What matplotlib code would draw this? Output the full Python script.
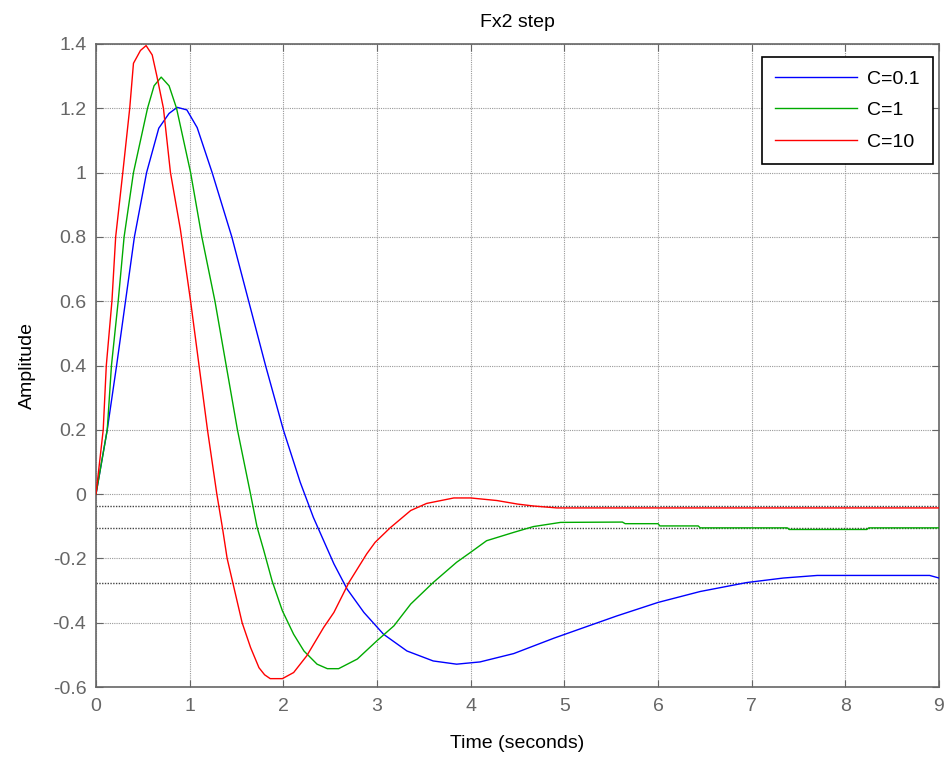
import matplotlib.pyplot as plt

# values
t_c01 = [0, 0.12, 0.22, 0.315, 0.41, 0.54, 0.67, 0.78, 0.867, 0.97, 1.08, 1.24, 1.45, 1.63,
         1.81, 2.0, 2.18, 2.32, 2.54, 2.68, 2.86, 3.07, 3.32, 3.6, 3.85, 4.1, 4.46, 4.89,
         5.21, 5.56, 6.0, 6.45, 6.95, 7.34, 7.7, 8.9, 9.0]
y_c01 = [0, 0.2, 0.4, 0.6, 0.8, 1.0, 1.138, 1.184, 1.203, 1.195, 1.14, 1.0, 0.8, 0.6,
         0.4, 0.2, 0.037, -0.072, -0.217, -0.295, -0.368, -0.436, -0.488, -0.519, -0.529, -0.522, -0.496, -0.448,
         -0.415, -0.379, -0.337, -0.303, -0.275, -0.261, -0.253, -0.253, -0.261]

t_c1 = [0, 0.12, 0.165, 0.237, 0.3, 0.4, 0.475, 0.55, 0.62, 0.696, 0.78, 0.86, 1.01, 1.13, 1.27, 1.39,
        1.51, 1.65, 1.72, 1.79, 1.88, 1.99, 2.11, 2.22, 2.36, 2.47, 2.59, 2.79, 3.0, 3.18,
        3.36, 3.6, 3.85, 4.0, 4.17, 4.46, 4.67, 4.96, 5.62, 5.65, 6.0, 6.02, 6.43, 6.45,
        7.38, 7.4, 8.23, 8.25, 9.0]
y_c1 = [0, 0.2, 0.4, 0.6, 0.8, 1.0, 1.1, 1.2, 1.27, 1.297, 1.27, 1.2, 1.0, 0.8, 0.6, 0.4,
        0.2, 0.0, -0.103, -0.174, -0.27, -0.363, -0.436, -0.488, -0.529, -0.543, -0.543, -0.513, -0.456, -0.41,
        -0.342, -0.275, -0.212, -0.181, -0.145, -0.119, -0.101, -0.088, -0.087, -0.092, -0.092, -0.099, -0.099, -0.105,
        -0.105, -0.11, -0.11, -0.105, -0.105]

t_c10 = [0, 0.077, 0.11, 0.17, 0.21, 0.286, 0.36, 0.4, 0.475, 0.535, 0.6, 0.65, 0.72, 0.795,
         0.9, 1.01, 1.1, 1.19, 1.29, 1.35, 1.4, 1.46, 1.56, 1.65, 1.74, 1.8, 1.86, 1.99, 2.11,
         2.25, 2.43, 2.54, 2.7, 2.89, 2.98, 3.14, 3.36, 3.53, 3.82, 4.0, 4.28, 4.5, 4.67,
         4.92, 9.0]
y_c10 = [0, 0.2, 0.4, 0.6, 0.8, 1.0, 1.2, 1.34, 1.38, 1.395, 1.366, 1.3, 1.2, 1.0,
         0.825, 0.6, 0.4, 0.2, 0.0, -0.105, -0.2, -0.275, -0.4, -0.477, -0.54, -0.562, -0.574, -0.574, -0.555,
         -0.503, -0.415, -0.368, -0.275, -0.186, -0.15, -0.105, -0.051, -0.029, -0.012, -0.012, -0.02, -0.031, -0.037,
         -0.043, -0.043]

# steady-state marker lines
ss_values = [-0.037, -0.105, -0.275]
labels = ['C=0.1', 'C=1', 'C=10']

plt.rcParams['font.family'] = ['Liberation Sans', 'DejaVu Sans']

fig = plt.figure(figsize=(9.5, 7.63), dpi=100)
ax = fig.add_axes([96 / 950, 76 / 763, 843 / 950, 643 / 763])

for v in ss_values:
    ax.axhline(v, color='#444444', linestyle=(0, (1, 1)), linewidth=1.0, zorder=1)

ax.plot(t_c01, y_c01, color='#0000ff', linewidth=1.0, label=labels[0], zorder=3)
ax.plot(t_c1, y_c1, color='#00aa00', linewidth=1.0, label=labels[1], zorder=3)
ax.plot(t_c10, y_c10, color='#ff0000', linewidth=1.0, label=labels[2], zorder=3)

ax.set_xlim(0, 9)
ax.set_ylim(-0.6, 1.4)
ax.set_xticks(range(0, 10))
ax.set_yticks([-0.6, -0.4, -0.2, 0, 0.2, 0.4, 0.6, 0.8, 1, 1.2, 1.4])
ax.set_yticklabels(['-0.6', '-0.4', '-0.2', '0', '0.2', '0.4', '0.6', '0.8', '1', '1.2', '1.4'])
ax.grid(True, color='#999999', linestyle=(0, (1, 1)), linewidth=0.8, zorder=0)
ax.tick_params(direction='in', length=5, top=True, right=True, labelsize=14,
               colors='#666666', labelcolor='#666666')
ax.tick_params(axis='x', pad=8)
ax.tick_params(axis='y', pad=7)
for s in ax.spines.values():
    s.set_color('#666666')
    s.set_linewidth(1.2)

ax.set_title('Fx2 step', fontsize=14, pad=12)
ax.set_xlabel('Time (seconds)', fontsize=14, labelpad=14)
ax.set_ylabel('Amplitude', fontsize=14, labelpad=12)

leg = ax.legend(loc='upper right', bbox_to_anchor=(0.993, 0.98), borderaxespad=0,
                fontsize=14, handlelength=4.2, handletextpad=0.5, labelspacing=0.7,
                borderpad=0.7, fancybox=False, framealpha=1)
leg.get_frame().set_edgecolor('black')
leg.get_frame().set_linewidth(1.2)

plt.savefig('out.png')
plt.close()
